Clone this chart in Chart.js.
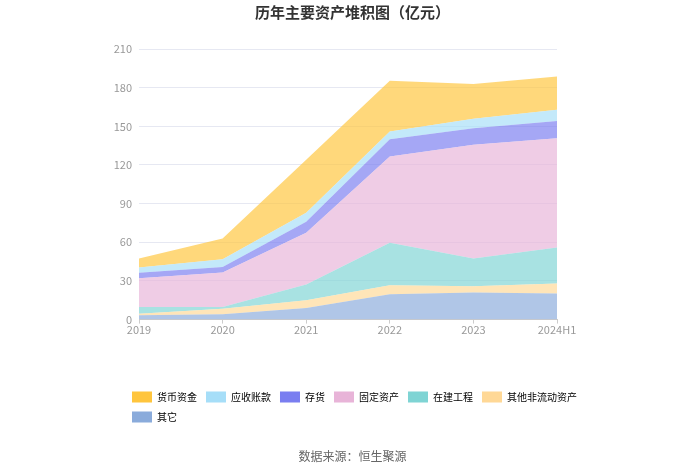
<!DOCTYPE html>
<html>
<head>
<meta charset="utf-8">
<script src="https://cdn.jsdelivr.net/npm/chart.js@4"></script>
<style>
  html, body { margin: 0; padding: 0; background: #fff; }
  #wrap { width: 700px; height: 474px; }
</style>
</head>
<body>
<div id="wrap"><canvas id="assets" width="700" height="474"></canvas></div>
<script>
// values in 亿元
const years = ['2019', '2020', '2021', '2022', '2023', '2024H1'];
const cash        = [7.0, 16.1, 41.1, 39.4, 27.0, 25.9];   // 货币资金
const receivable  = [4.1, 6.0, 7.0, 5.9, 7.3, 8.6];        // 应收账款
const inventory   = [4.2, 4.4, 8.5, 13.5, 12.9, 13.4];     // 存货
const fixedAssets = [22.3, 26.7, 40.2, 66.9, 88.2, 84.8];  // 固定资产
const construct   = [5.2, 1.3, 12.2, 32.9, 21.5, 28.0];    // 在建工程
const otherNonCur = [1.3, 4.4, 6.0, 7.0, 4.9, 7.8];        // 其他非流动资产
const others      = [3.3, 4.1, 9.0, 19.7, 21.0, 20.2];     // 其它
const yTicks = [0, 30, 60, 90, 120, 150, 180, 210];

const FONT = '"Noto Sans CJK SC", "Noto Sans", sans-serif';

// bottom of the stack first
const series = [
  { label: '其它',         data: others,      color: [138, 171, 219] },
  { label: '其他非流动资产', data: otherNonCur, color: [255, 216, 150] },
  { label: '在建工程',      data: construct,   color: [127, 212, 212] },
  { label: '固定资产',      data: fixedAssets, color: [232, 180, 216] },
  { label: '存货',         data: inventory,   color: [122, 126, 240] },
  { label: '应收账款',      data: receivable,  color: [166, 222, 248] },
  { label: '货币资金',      data: cash,        color: [255, 197, 61] }
];

const rgba = (c, a) => `rgba(${c[0]},${c[1]},${c[2]},${a})`;

const datasets = series.map((s, i) => ({
  label: s.label,
  data: s.data,
  fill: i === 0 ? 'origin' : '-1',
  backgroundColor: rgba(s.color, 0.68),
  borderColor: rgba(s.color, 0),
  borderWidth: 0,
  pointRadius: 0,
  pointHoverRadius: 0,
  tension: 0,
  legendColor: rgba(s.color, 1)
}));

// legend sits a bit right of the y axis box, like the original
const legendShift = {
  id: 'legendShift',
  afterLayout(chart) {
    chart.legend.left += 18;
    chart.legend.right += 18;
  }
};

new Chart(document.getElementById('assets'), {
  type: 'line',
  data: { labels: years, datasets: datasets },
  plugins: [legendShift],
  options: {
    responsive: false,
    animation: false,
    devicePixelRatio: 1,
    layout: { padding: { left: 105, right: 100, top: 0, bottom: 0 } },
    plugins: {
      title: {
        display: true,
        text: '历年主要资产堆积图（亿元）',
        color: '#333',
        font: { family: FONT, size: 15, weight: 'bold' },
        padding: { top: 3, bottom: 28 }
      },
      subtitle: {
        display: true,
        position: 'bottom',
        text: '数据来源：恒生聚源',
        color: '#666',
        font: { family: FONT, size: 12 },
        padding: { top: 17, bottom: 10 }
      },
      legend: {
        position: 'bottom',
        align: 'start',
        reverse: true,
        labels: {
          boxWidth: 20,
          boxHeight: 11,
          padding: 9,
          color: '#666',
          font: { family: FONT, size: 10 },
          generateLabels: (chart) => chart.data.datasets.map((d, i) => ({
            text: d.label,
            fillStyle: d.legendColor,
            strokeStyle: d.legendColor,
            lineWidth: 0,
            datasetIndex: i,
            hidden: false
          }))
        }
      },
      tooltip: { enabled: false }
    },
    scales: {
      x: {
        offset: false,
        grid: { drawOnChartArea: false, tickLength: 4, tickColor: '#ccc' },
        border: { color: '#ccc' },
        ticks: { color: '#999', font: { family: FONT, size: 11 }, padding: 0, maxRotation: 0 },
        afterFit: (scale) => { scale.height = 63; }
      },
      y: {
        stacked: true,
        min: 0,
        max: 210,
        afterBuildTicks: (scale) => { scale.ticks = yTicks.map(v => ({ value: v })); },
        grid: { color: '#e6e8f2', drawTicks: false },
        border: { display: false },
        ticks: { color: '#999', font: { family: FONT, size: 11 }, padding: 7 },
        afterFit: (scale) => { scale.width = 34; }
      },
      y2: {
        position: 'right',
        display: true,
        grid: { display: false },
        border: { display: false },
        ticks: { display: false },
        afterFit: (scale) => { scale.width = 43; }
      }
    }
  }
});
</script>
</body>
</html>
